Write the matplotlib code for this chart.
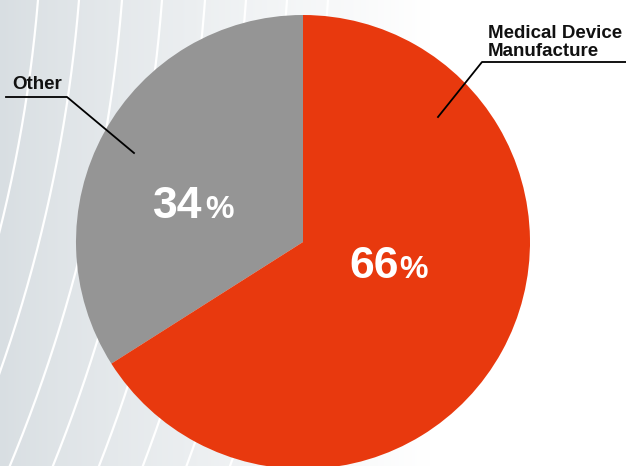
import numpy as np
import matplotlib.pyplot as plt

# data
labels = ['Other', 'Medical Device\nManufacture']
shares = [34, 66]
colors = ['#959595', '#e8390e']

W, H = 626, 466

fig = plt.figure(figsize=(6.26, 4.66), dpi=100)
ax = fig.add_axes([0, 0, 1, 1])

# background: gray-blue on the left fading to white
xs = np.linspace(0, 1, W)
t = np.clip(xs * W / 430.0, 0, 1)
t = t ** 0.85
left = np.array([216, 222, 226]) / 255.0
grad = left[None, :] * (1 - t[:, None]) + np.ones(3)[None, :] * t[:, None]
img = np.tile(grad[None, :, :], (2, 1, 1))
ax.imshow(img, extent=[0, W, 0, H], aspect='auto', zorder=0, interpolation='bilinear')

# white arcs (big circles centred off to the upper left)
cx, cy = -1400, H + 120
for xt in [-4, 38, 79, 122, 162, 205, 246, 287, 328]:
    r = np.hypot(xt - cx, H - cy)
    yy = np.linspace(-10, H + 10, 300)
    xx = cx + np.sqrt(r ** 2 - (yy - cy) ** 2)
    ax.plot(xx, yy, color='white', lw=1.6, zorder=1, solid_capstyle='butt')

# pie
wedges, _ = ax.pie(shares, colors=colors, startangle=90, counterclock=True,
                   center=(303, H - 242), radius=227,
                   wedgeprops=dict(linewidth=0), frame=True)
for w in wedges:
    w.set_zorder(2)

ax.set_xlim(0, W)
ax.set_ylim(0, H)
ax.set_aspect('auto')
ax.axis('off')

# percentage labels
fn = 'Liberation Sans'
for pct, x0, xp, yb in [(shares[0], 153, 205, 218), (shares[1], 349, 399, 278)]:
    ax.text(x0, H - yb, str(pct), color='white', fontsize=32, fontweight='bold',
            family=fn, ha='left', va='baseline', zorder=5)
    ax.text(xp, H - yb, '%', color='white', fontsize=23, fontweight='bold',
            family=fn, ha='left', va='baseline', zorder=5)

# category labels with leader lines
ax.text(12, H - 89, labels[0], fontsize=13.5, fontweight='bold', family=fn,
        color='#111111', ha='left', va='baseline', zorder=5)
ax.plot([6, 67, 134], [H - 97, H - 97, H - 153], color='black', lw=1.3, zorder=6)

ax.text(488, H - 56, labels[1], fontsize=13.5, fontweight='bold', family=fn,
        color='#111111', ha='left', va='baseline', linespacing=1.05, zorder=5)
ax.plot([626, 482, 438], [H - 62, H - 62, H - 117], color='black', lw=1.3, zorder=6)

fig.savefig('out.png', dpi=100)
